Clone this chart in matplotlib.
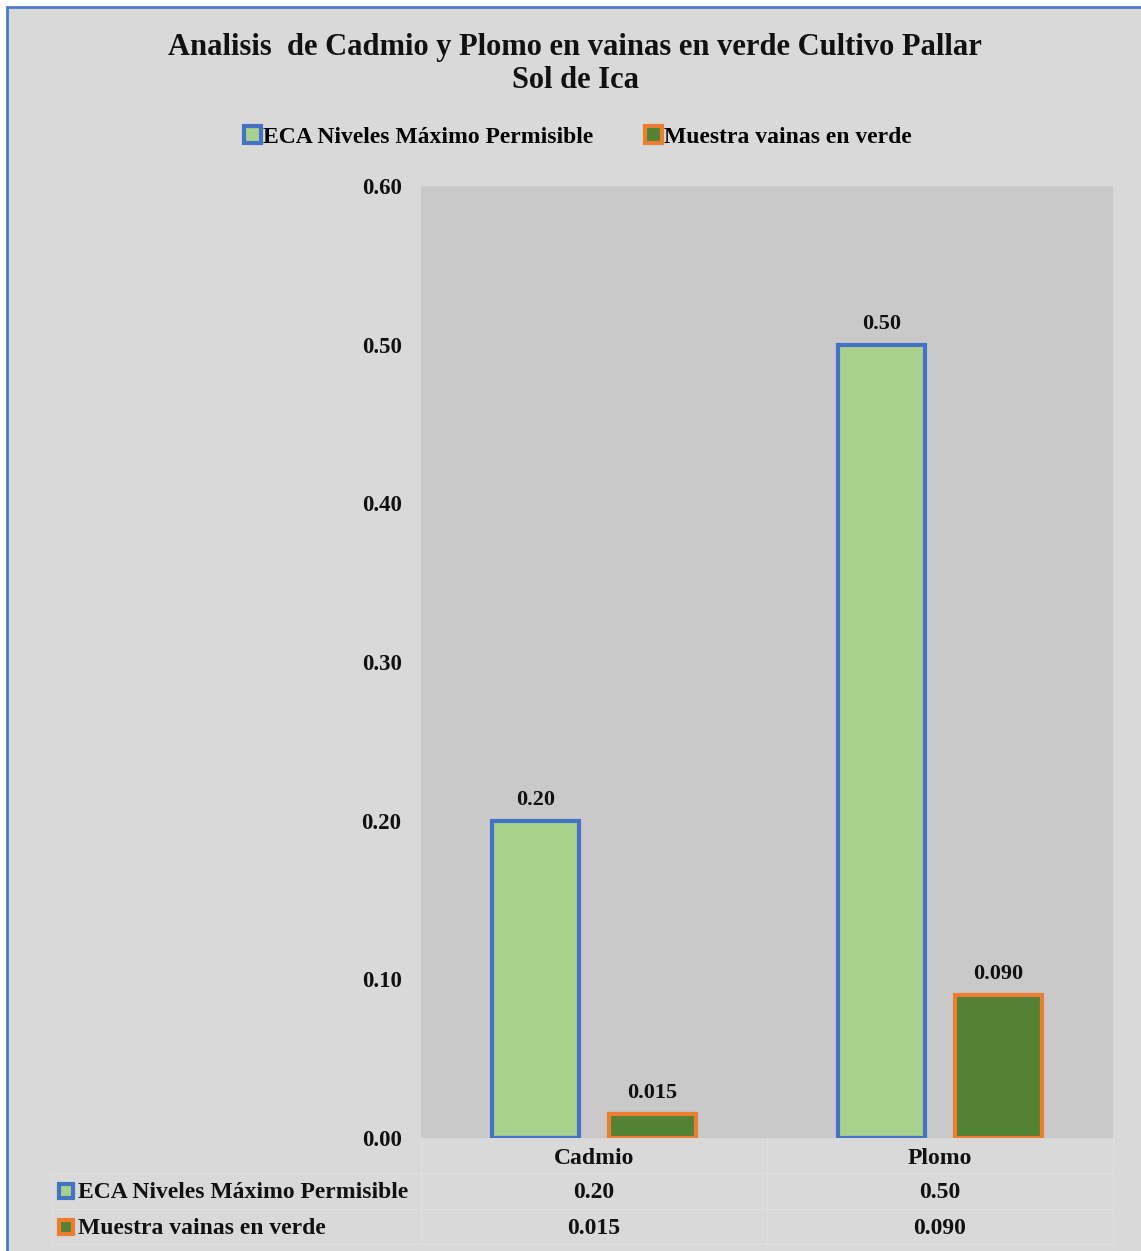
import matplotlib
matplotlib.use("Agg")
import matplotlib.pyplot as plt
from matplotlib.patches import Rectangle
from matplotlib.lines import Line2D
import numpy as np

categories = ["Cadmio", "Plomo"]
series_names = ["ECA Niveles Máximo Permisible", "Muestra vainas en verde"]
eca_values = [0.20, 0.50]
muestra_values = [0.015, 0.090]
eca_labels = ["0.20", "0.50"]
muestra_labels = ["0.015", "0.090"]
yticks = [0.0, 0.1, 0.2, 0.3, 0.4, 0.5, 0.6]
title = "Analisis  de Cadmio y Plomo en vainas en verde Cultivo Pallar\nSol de Ica"

W, H = 1141, 1251
FONT = "Liberation Serif"
BG = "#D9D9D9"
PLOT_BG = "#C9C9C9"
FILL = ["#A9D18E", "#548235"]
EDGE = ["#4472C4", "#ED7D31"]

fig = plt.figure(figsize=(W / 100, H / 100), dpi=100, facecolor="white")

def fx(px):
    return px / W

def fy(py):
    return 1 - py / H

# chart area with blue border (top/left visible)
bgrect = Rectangle((fx(7), fy(1260)), fx(1160 - 7), fy(7) - fy(1260),
                   transform=fig.transFigure, facecolor=BG,
                   edgecolor="#4A7BD0", linewidth=2, zorder=-5)
fig.add_artist(bgrect)

L, R, T, B = 421, 1113, 186, 1138
ax = fig.add_axes([fx(L), fy(B), fx(R - L), fy(T) - fy(B)])
ax.set_zorder(5)
ax.set_facecolor(PLOT_BG)
for s in ax.spines.values():
    s.set_visible(False)

x = np.arange(len(categories))
bw = 0.254
off = 0.169
series = [eca_values, muestra_values]
labels = [eca_labels, muestra_labels]
for i, (vals, labs) in enumerate(zip(series, labels)):
    pos = x + (-off if i == 0 else off)
    ax.bar(pos, vals, width=bw, color=FILL[i], edgecolor=EDGE[i],
           linewidth=3, zorder=3)
    for p, v, t in zip(pos, vals, labs):
        ax.annotate(t, (p, v), xytext=(0, 8), textcoords="offset points",
                    ha="center", va="bottom", fontsize=16, fontweight="bold",
                    family=FONT, color="#111111")

ax.set_xlim(-0.5, 1.5)
ax.set_ylim(0, 0.6)
ax.set_yticks(yticks)
ax.set_yticklabels([f"{t:.2f}" for t in yticks], fontsize=16.5, fontweight="bold",
                   family=FONT, color="#111111")
ax.tick_params(axis="y", length=0, pad=14)
ax.set_xticks([])

# title
fig.text(fx(575), fy(64), title, ha="center", va="center", fontsize=22,
         fontweight="bold", family=FONT, color="#111111", linespacing=1.2,
         zorder=6)

# top legend
leg_handles = [Rectangle((0, 0), 1, 1, facecolor=FILL[i], edgecolor=EDGE[i], linewidth=3)
               for i in range(2)]
fig.legend(leg_handles, series_names, loc="center", bbox_to_anchor=(fx(578), fy(137)),
           ncol=2, frameon=False, handlelength=0.7, handleheight=0.7,
           handletextpad=0.1, columnspacing=2.2,
           prop={"family": FONT, "weight": "bold", "size": 17})

# data table
rows_y = [1138, 1173, 1209, 1244]
col_x = [52, 421, 767, 1113]
grid_c = "#E0E0E0"
for yy in rows_y[1:]:
    fig.add_artist(Line2D([fx(col_x[0]), fx(col_x[-1])], [fy(yy), fy(yy)],
                          color=grid_c, lw=0.9))
for xx in col_x[1:]:
    fig.add_artist(Line2D([fx(xx), fx(xx)], [fy(rows_y[0]), fy(rows_y[-1])],
                          color=grid_c, lw=0.9))
fig.add_artist(Line2D([fx(col_x[0]), fx(col_x[0])], [fy(rows_y[1]), fy(rows_y[-1])],
                      color=grid_c, lw=0.9))

tkw = dict(fontsize=17, fontweight="bold", family=FONT, color="#111111", va="center")
for j, c in enumerate(categories):
    cx = (col_x[j + 1] + col_x[j + 2]) / 2
    fig.text(fx(cx), fy((rows_y[0] + rows_y[1]) / 2 + 3), c, ha="center", **tkw)
for i in range(2):
    cy = (rows_y[i + 1] + rows_y[i + 2]) / 2
    fig.add_artist(Rectangle((fx(59), fy(cy + 7)), fx(14), fy(cy - 7) - fy(cy + 7),
                             transform=fig.transFigure, facecolor=FILL[i],
                             edgecolor=EDGE[i], linewidth=3, zorder=2))
    fig.text(fx(78), fy(cy + 2), series_names[i], ha="left", **tkw)
    for j in range(len(categories)):
        cx = (col_x[j + 1] + col_x[j + 2]) / 2
        fig.text(fx(cx), fy(cy + 2), labels[i][j], ha="center", **tkw)

fig.savefig("out.png", dpi=100, facecolor=fig.get_facecolor())
